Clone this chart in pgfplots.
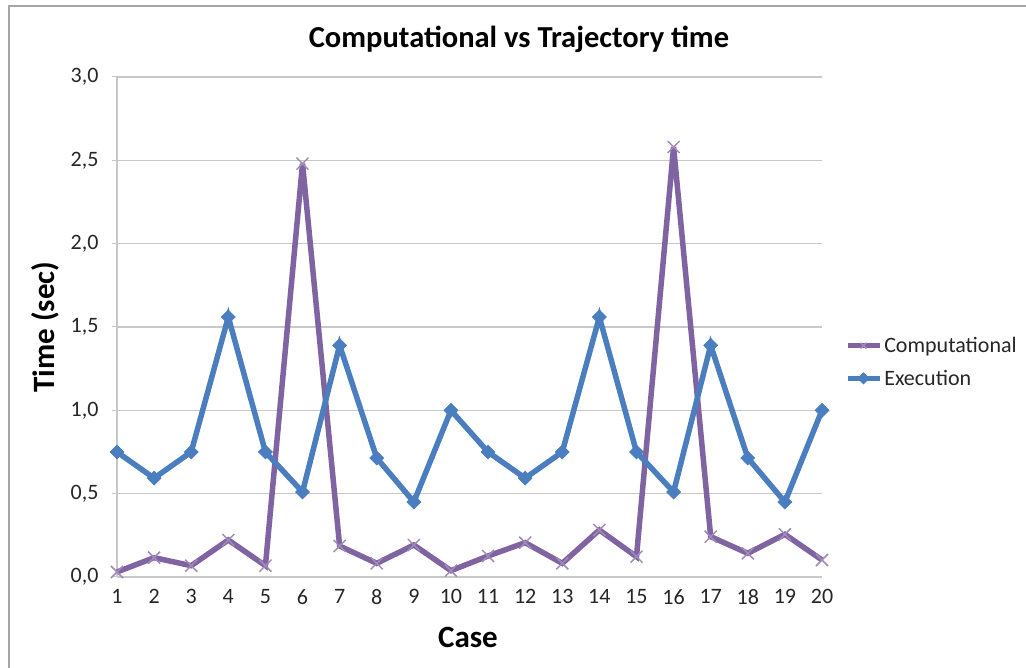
\documentclass[border=0pt]{standalone}
\usepackage{pgfplots}
\pgfplotsset{compat=1.18}
\usepackage{fontspec}
\setmainfont{Carlito}
\definecolor{comp}{HTML}{8064A2}
\definecolor{exec}{HTML}{4A7EBF}
\definecolor{gridc}{HTML}{C8C8C8}
\begin{document}
\begin{tikzpicture}[x=1pt,y=1pt]
\useasboundingbox (0,0) rectangle (1026,668);
\draw[line width=2pt,color=gray!70] (9,-5) -- (9,662) -- (1035,662);
\node[font=\bfseries\fontsize{30.5}{36}\selectfont,anchor=center] at (519,629) {Computational vs Trajectory time};
\node[font=\bfseries\fontsize{31}{36}\selectfont,anchor=center,rotate=90] at (45,341) {Time (sec)};
\node[font=\bfseries\fontsize{31}{36}\selectfont,anchor=center] at (468,31) {Case};
\begin{axis}[
  at={(117pt,91pt)}, anchor=south west,
  scale only axis, width=705pt, height=500pt,
  xmin=1, xmax=20, ymin=0, ymax=3,
  xtick={1,...,20},
  ytick={0,0.5,...,3},
  yticklabels={{0,0},{0,5},{1,0},{1,5},{2,0},{2,5},{3,0}},
  ymajorgrids, grid style={gridc, line width=1.2pt},
  axis line style={gridc, line width=1.2pt},
  axis x line*=bottom, axis y line*=left,
  tick style={gridc, line width=1pt},
  major tick length=5pt,
  tick align=outside,
  xtick style={draw=none},
  ticklabel style={font=\fontsize{22}{26}\selectfont, text=black!85},
  /pgf/number format/assume math mode=true,
  yticklabel style={xshift=-10pt},
  xticklabel style={yshift=-4pt},
  clip=false,
  legend style={at={(1.032,0.43)}, anchor=west, draw=none, fill=none,
    font=\fontsize{22}{26}\selectfont, row sep=12pt, inner sep=0pt, text=black!85},
  legend cell align=left,
  legend image code/.code={
    \draw[#1] (0pt,0pt) -- (32pt,0pt);
    \path plot[mark size=4pt,#1] coordinates {(16pt,0pt)};
  },
]
\addplot[comp, line width=5.5pt, mark=x, mark size=8.5pt, mark options={line width=1.5pt, comp!75}] coordinates {
(1,0.03) (2,0.116) (3,0.068) (4,0.222) (5,0.068) (6,2.48) (7,0.186) (8,0.082) (9,0.192) (10,0.038)
(11,0.126) (12,0.206) (13,0.082) (14,0.282) (15,0.122) (16,2.58) (17,0.242) (18,0.142) (19,0.256) (20,0.102)};
\addlegendentry{Computational}
\addplot[exec, line width=5.5pt, mark=square*, mark size=5pt, mark options={line width=0.5pt, rotate=45}] coordinates {
(1,0.75) (2,0.593) (3,0.75) (4,1.56) (5,0.75) (6,0.51) (7,1.39) (8,0.714) (9,0.45) (10,1.0)
(11,0.75) (12,0.593) (13,0.75) (14,1.56) (15,0.75) (16,0.51) (17,1.39) (18,0.714) (19,0.45) (20,1.0)};
\addlegendentry{Execution}
\end{axis}
\end{tikzpicture}
\end{document}
